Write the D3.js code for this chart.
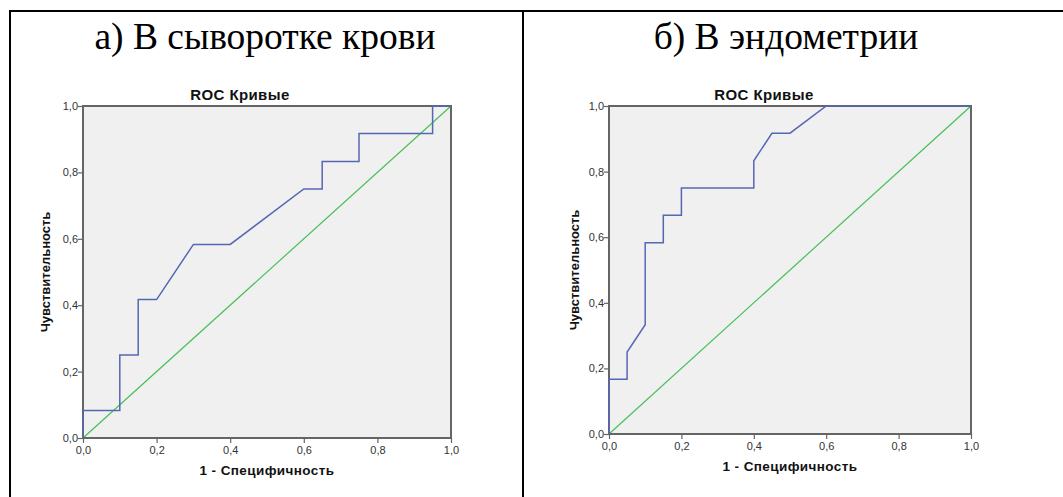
<!DOCTYPE html>
<html>
<head>
<meta charset="utf-8">
<script src="https://cdn.jsdelivr.net/npm/d3@7"></script>
<style>
  body { margin: 0; background: #fff; }
  svg { display: block; }
</style>
</head>
<body>
<div id="chart"></div>
<script>
// tick values shared by both axes
var tickValues = [0, 0.2, 0.4, 0.6, 0.8, 1.0];

// panel a) serum
var serumFpr = [0, 0, 0.10, 0.10, 0.15, 0.15, 0.20, 0.30, 0.40, 0.60, 0.65, 0.65, 0.75, 0.75, 0.95, 0.95, 1.0];
var serumTpr = [0, 0.083, 0.083, 0.25, 0.25, 0.417, 0.417, 0.583, 0.583, 0.75, 0.75, 0.833, 0.833, 0.917, 0.917, 1.0, 1.0];

// panel b) endometrium
var endoFpr = [0, 0, 0.05, 0.05, 0.10, 0.10, 0.15, 0.15, 0.20, 0.20, 0.40, 0.40, 0.45, 0.50, 0.60, 1.0];
var endoTpr = [0, 0.167, 0.167, 0.25, 0.333, 0.583, 0.583, 0.667, 0.667, 0.75, 0.75, 0.833, 0.917, 0.917, 1.0, 1.0];

var refLine = [0, 1];

var panelTitles = ["а) В сыворотке крови", "б) В эндометрии"];
var chartTitle = "ROC Кривые";
var xLabel = "1 - Специфичность";
var yLabel = "Чувствительность";

var svg = d3.select("#chart").append("svg")
    .attr("width", 1063)
    .attr("height", 497);

// table borders
svg.append("line").attr("x1", 9).attr("x2", 1063).attr("y1", 11).attr("y2", 11)
    .attr("stroke", "#000").attr("stroke-width", 2);
svg.append("line").attr("x1", 10).attr("x2", 10).attr("y1", 10).attr("y2", 497)
    .attr("stroke", "#000").attr("stroke-width", 2);
svg.append("line").attr("x1", 523).attr("x2", 523).attr("y1", 10).attr("y2", 497)
    .attr("stroke", "#000").attr("stroke-width", 2);

var fmt = function (d) { return d3.format(".1f")(d).replace(".", ","); };
var sans = "'Liberation Sans', Arial, sans-serif";

function drawPanel(opt, fpr, tpr) {
    var g = svg.append("g");

    var x = d3.scaleLinear().domain([0, 1]).range([opt.left, opt.right]);
    var y = d3.scaleLinear().domain([0, 1]).range([opt.bottom, opt.top]);

    // panel heading
    g.append("text")
        .attr("x", opt.titleX)
        .attr("y", 49)
        .attr("text-anchor", "middle")
        .style("font-family", "'Liberation Serif', 'Times New Roman', serif")
        .style("font-size", "37.5px")
        .attr("fill", "#000")
        .text(opt.title);

    // plot background
    g.append("rect")
        .attr("x", opt.left).attr("y", opt.top)
        .attr("width", opt.right - opt.left)
        .attr("height", opt.bottom - opt.top)
        .attr("fill", "#f0f0f0");

    // chart title
    g.append("text")
        .attr("x", opt.rocX)
        .attr("y", 100)
        .attr("text-anchor", "middle")
        .style("font-family", sans)
        .style("font-size", "15px")
        .style("font-weight", "bold")
        .style("letter-spacing", "0.4px")
        .attr("fill", "#111")
        .text(chartTitle);

    var line = d3.line()
        .x(function (d) { return x(d[0]); })
        .y(function (d) { return y(d[1]); });

    // reference diagonal
    g.append("path")
        .datum(d3.zip(refLine, refLine))
        .attr("d", line)
        .attr("fill", "none")
        .attr("stroke", "#45c055")
        .attr("stroke-width", 1.2);

    // frame
    g.append("rect")
        .attr("x", opt.left).attr("y", opt.top)
        .attr("width", opt.right - opt.left)
        .attr("height", opt.bottom - opt.top)
        .attr("fill", "none")
        .attr("stroke", "#656565")
        .attr("stroke-width", 2);

    // ROC curve (on top of the frame, like the original)
    g.append("path")
        .datum(d3.zip(fpr, tpr))
        .attr("d", line)
        .attr("fill", "none")
        .attr("stroke", "#5567b3")
        .attr("stroke-width", 1.5);

    var xAxis = d3.axisBottom(x).tickValues(tickValues).tickFormat(fmt).tickSize(5).tickSizeOuter(0);
    var yAxis = d3.axisLeft(y).tickValues(tickValues).tickFormat(fmt).tickSize(5).tickSizeOuter(0);

    var gx = g.append("g").attr("transform", "translate(0," + opt.bottom + ")").call(xAxis);
    var gy = g.append("g").attr("transform", "translate(" + opt.left + ",0)").call(yAxis);

    [gx, gy].forEach(function (a) {
        a.select(".domain").remove();
        a.selectAll(".tick line").attr("stroke", "#656565").attr("stroke-width", 1.2);
        a.selectAll(".tick text")
            .style("font-family", sans)
            .style("font-size", "11px")
            .attr("fill", "#333");
    });
    gx.selectAll(".tick text").attr("dy", "0.95em").attr("y", 6);
    gy.selectAll(".tick text").attr("x", -5);

    // axis titles
    g.append("text")
        .attr("x", (opt.left + opt.right) / 2)
        .attr("y", opt.bottom + 37)
        .attr("text-anchor", "middle")
        .style("font-family", sans)
        .style("font-size", "13.5px")
        .style("font-weight", "bold")
        .style("letter-spacing", "0.4px")
        .attr("fill", "#111")
        .text(xLabel);

    g.append("text")
        .attr("transform", "translate(" + (opt.left - opt.yLabelOff) + "," + ((opt.top + opt.bottom) / 2) + ") rotate(-90)")
        .attr("text-anchor", "middle")
        .style("font-family", sans)
        .style("font-size", "13px")
        .style("font-weight", "bold")
        .attr("fill", "#111")
        .text(yLabel);
}

drawPanel({ title: panelTitles[0], titleX: 265, rocX: 240, yLabelOff: 33,
    left: 83, right: 451, top: 106, bottom: 438 }, serumFpr, serumTpr);
drawPanel({ title: panelTitles[1], titleX: 786, rocX: 764, yLabelOff: 30,
    left: 609, right: 971, top: 106, bottom: 434 }, endoFpr, endoTpr);
</script>
</body>
</html>
